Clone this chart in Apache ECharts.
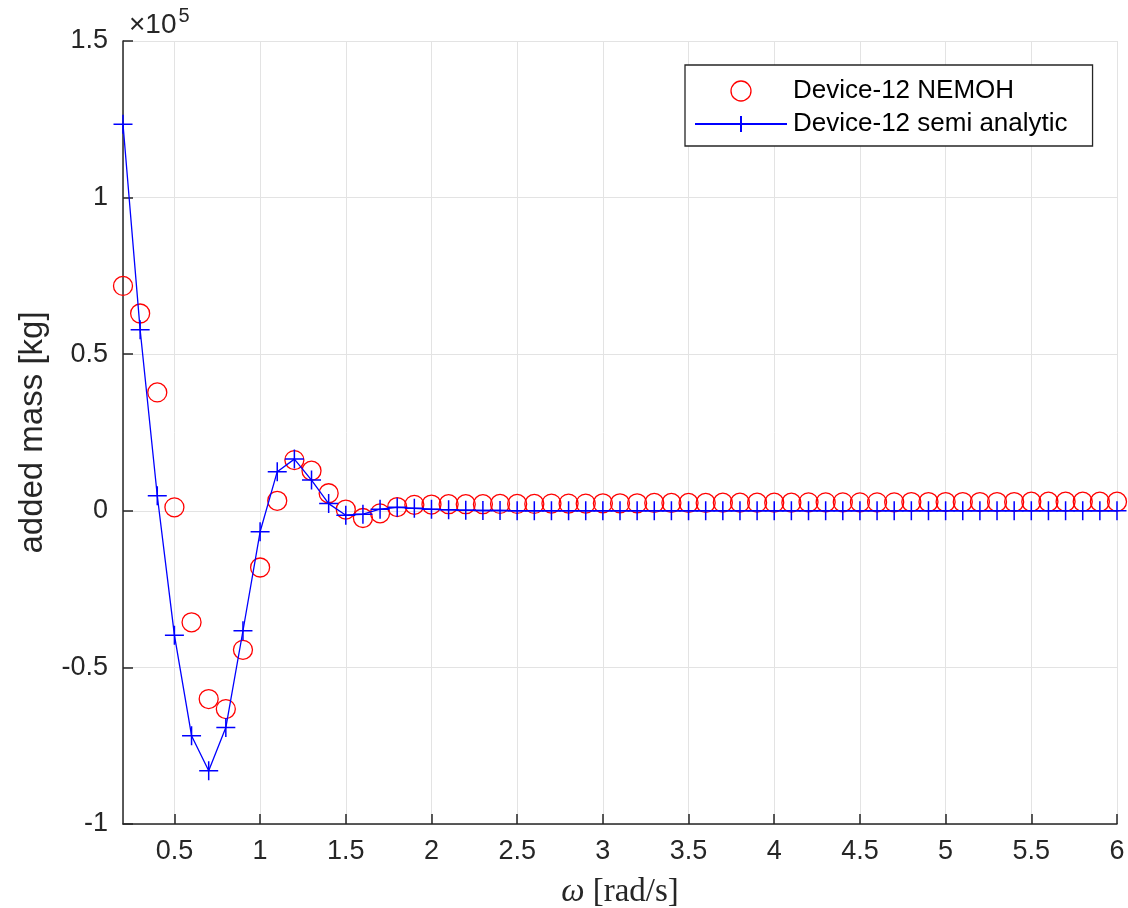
<!DOCTYPE html>
<html>
<head>
<meta charset="utf-8">
<script src="https://cdn.jsdelivr.net/npm/echarts@6/dist/echarts.min.js"></script>
<style>
  html, body { margin: 0; padding: 0; background: #fff; }
  #chart { width: 1128px; height: 908px; }
</style>
</head>
<body>
<div id="chart"></div>
<script>
// omega [rad/s]
var omega = [
  0.2, 0.3, 0.4, 0.5, 0.6, 0.7, 0.8, 0.9, 1.0, 1.1,
  1.2, 1.3, 1.4, 1.5, 1.6, 1.7, 1.8, 1.9, 2.0, 2.1,
  2.2, 2.3, 2.4, 2.5, 2.6, 2.7, 2.8, 2.9, 3.0, 3.1,
  3.2, 3.3, 3.4, 3.5, 3.6, 3.7, 3.8, 3.9, 4.0, 4.1,
  4.2, 4.3, 4.4, 4.5, 4.6, 4.7, 4.8, 4.9, 5.0, 5.1,
  5.2, 5.3, 5.4, 5.5, 5.6, 5.7, 5.8, 5.9, 6.0
];

// added mass, in units of 1e5 kg
var nemoh = [
  0.718, 0.630, 0.378, 0.011, -0.356, -0.601, -0.633, -0.444, -0.181, 0.032,
  0.162, 0.128, 0.056, 0.004, -0.023, -0.008, 0.012, 0.019, 0.020, 0.021,
  0.021, 0.021, 0.022, 0.022, 0.022, 0.023, 0.023, 0.023, 0.024, 0.024,
  0.024, 0.025, 0.025, 0.025, 0.025, 0.026, 0.026, 0.026, 0.026, 0.026,
  0.027, 0.027, 0.027, 0.027, 0.027, 0.027, 0.028, 0.028, 0.028, 0.028,
  0.028, 0.028, 0.028, 0.029, 0.029, 0.029, 0.029, 0.029, 0.029
];

var semiAnalytic = [
  1.234, 0.578, 0.048, -0.397, -0.718, -0.830, -0.692, -0.383, -0.067, 0.125,
  0.165, 0.098, 0.023, -0.014, -0.011, 0.005, 0.011, 0.008, 0.005, 0.003,
  0.002, 0.001, 0.001, 0.000, 0.000, 0.000, 0.000, 0.000, 0.000, 0.000,
  0.000, 0.000, 0.000, 0.000, 0.000, 0.000, 0.000, 0.000, 0.000, 0.000,
  0.000, 0.000, 0.000, 0.000, 0.000, 0.000, 0.000, 0.000, 0.000, 0.000,
  0.000, 0.000, 0.000, 0.000, 0.000, 0.000, 0.000, 0.000, 0.000
];

var yTickLabels = { '-1': '-1', '-0.5': '-0.5', '0': '0', '0.5': '0.5', '1': '1', '1.5': '1.5' };

function pairs(xs, ys) {
  return xs.map(function (x, i) { return [x, ys[i]]; });
}

var axisColor = '#262626';
var gridColor = '#e3e3e3';
var font = 'Liberation Sans, Arial, Helvetica, sans-serif';
var serif = 'Liberation Serif, DejaVu Serif, serif';

var chart = echarts.init(document.getElementById('chart'));

chart.setOption({
  backgroundColor: '#ffffff',
  animation: false,
  textStyle: { fontFamily: font },
  title: {
    left: 124,
    top: 1,
    text: '{a|\u00d710}{b|5}',
    textStyle: {
      fontWeight: 'normal',
      rich: {
        a: { fontSize: 28, fontWeight: 'normal', color: axisColor, fontFamily: font, lineHeight: 38 },
        b: { fontSize: 20, fontWeight: 'normal', color: axisColor, fontFamily: font, verticalAlign: 'top', lineHeight: 38, padding: [0, 0, 16, 2] }
      }
    }
  },
  legend: {
    orient: 'vertical',
    left: 685,
    top: 65,
    padding: [13, 25, 9, 9],
    itemGap: 7,
    itemWidth: 92,
    itemHeight: 20,
    backgroundColor: '#ffffff',
    borderColor: axisColor,
    borderWidth: 1.3,
    textStyle: { fontSize: 26, color: '#000', fontFamily: font, padding: [0, 0, 0, 1] },
    data: [
      { name: 'Device-12 NEMOH', itemStyle: { borderWidth: 1.3 } },
      { name: 'Device-12 semi analytic' }
    ]
  },
  grid: { left: 123, right: 11, top: 41, bottom: 84, containLabel: false, outerBoundsMode: 'none' },
  xAxis: {
    type: 'value',
    min: 0.2,
    max: 6,
    minInterval: 0.5,
    maxInterval: 0.5,
    splitNumber: 12,
    name: '{w|\u03c9} [rad/s]',
    nameLocation: 'middle',
    nameGap: 52,
    nameTextStyle: {
      fontSize: 33,
      color: axisColor,
      fontFamily: serif,
      rich: {
        w: { fontSize: 33, fontStyle: 'italic', color: axisColor, fontFamily: serif }
      }
    },
    axisLine: { onZero: false, lineStyle: { color: axisColor, width: 1.5 } },
    axisTick: { inside: true, length: 10, lineStyle: { color: axisColor, width: 1.5 } },
    axisLabel: {
      showMinLabel: false,
      margin: 14,
      fontSize: 27,
      color: axisColor,
      fontFamily: font
    },
    splitLine: { show: true, lineStyle: { color: gridColor, width: 1 } }
  },
  yAxis: {
    type: 'value',
    min: -1,
    max: 1.5,
    interval: 0.5,
    name: 'added mass [kg]',
    nameLocation: 'middle',
    nameGap: 74,
    nameTextStyle: { fontSize: 33, color: axisColor, fontFamily: font },
    axisLine: { show: true, lineStyle: { color: axisColor, width: 1.5 } },
    axisTick: { show: true, inside: true, length: 10, lineStyle: { color: axisColor, width: 1.5 } },
    axisLabel: {
      margin: 15,
      fontSize: 27,
      color: axisColor,
      fontFamily: font,
      formatter: function (v) {
        var k = String(Math.round(v * 10) / 10);
        return yTickLabels[k] !== undefined ? yTickLabels[k] : k;
      }
    },
    splitLine: { show: true, lineStyle: { color: gridColor, width: 1 } }
  },
  series: [
    {
      name: 'Device-12 NEMOH',
      type: 'scatter',
      data: pairs(omega, nemoh),
      symbol: 'circle',
      symbolSize: 19,
      clip: false,
      itemStyle: { color: 'rgba(255,255,255,0)', borderColor: '#ff0000', borderWidth: 1.3, opacity: 1 },
      z: 2
    },
    {
      name: 'Device-12 semi analytic',
      type: 'line',
      data: pairs(omega, semiAnalytic),
      symbol: 'path://M10,0L10,20M0,10L20,10',
      symbolSize: 19,
      showAllSymbol: true,
      clip: false,
      lineStyle: { color: '#0000ff', width: 1.3 },
      itemStyle: { color: 'none', borderColor: '#0000ff', borderWidth: 1.5 },
      z: 3
    }
  ]
});
</script>
</body>
</html>
